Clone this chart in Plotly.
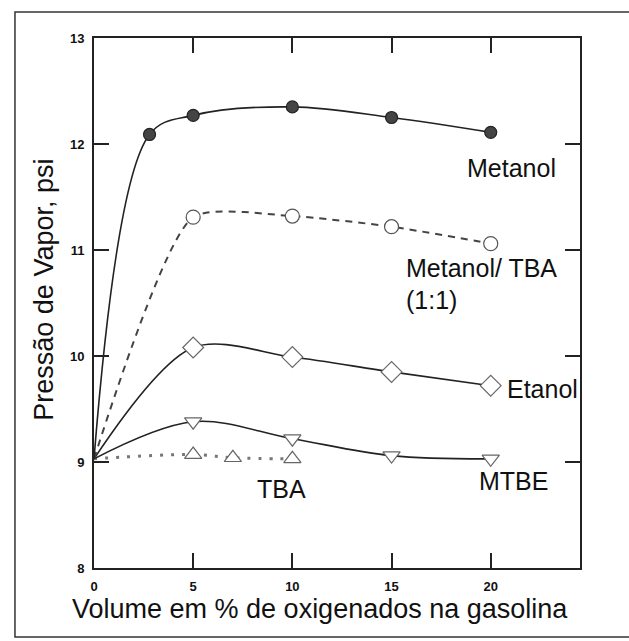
import plotly.graph_objects as go

# ---- data ----
base_x = 0
base_y = 9.03

metanol_x = [2.8, 5, 10, 15, 20]
metanol_y = [12.09, 12.27, 12.35, 12.25, 12.11]

mtba_x = [5, 10, 15, 20]
mtba_y = [11.31, 11.32, 11.22, 11.06]

etanol_x = [5, 10, 15, 20]
etanol_y = [10.08, 9.99, 9.85, 9.72]

mtbe_x = [5, 10, 15, 20]
mtbe_y = [9.38, 9.22, 9.06, 9.03]

tba_x = [5, 7, 10]
tba_y = [9.07, 9.04, 9.03]

x_ticks = [0, 5, 10, 15, 20]
y_ticks = [8, 9, 10, 11, 12, 13]

fig = go.Figure()

def add_series(xs, ys, line, marker, smoothing=1.0):
    fig.add_trace(go.Scatter(x=[base_x] + xs, y=[base_y] + ys, mode="lines",
                             line=dict(shape="spline", smoothing=smoothing, **line),
                             hoverinfo="skip", showlegend=False))
    fig.add_trace(go.Scatter(x=xs, y=ys, mode="markers", marker=marker,
                             showlegend=False))

add_series(tba_x, tba_y, dict(color="#777", width=3, dash="3px,8px"),
           dict(symbol="triangle-up", size=15, color="white", line=dict(color="#666", width=1.2)))
add_series(mtbe_x, mtbe_y, dict(color="#222", width=1.6),
           dict(symbol="triangle-down", size=15, color="white", line=dict(color="#666", width=1.2)))
add_series(etanol_x, etanol_y, dict(color="#222", width=1.6),
           dict(symbol="diamond", size=16, color="white", line=dict(color="#666", width=1.2)),
           smoothing=0.9)
add_series(mtba_x, mtba_y, dict(color="#444", width=2, dash="7px,6px"),
           dict(symbol="circle", size=14, color="white", line=dict(color="#555", width=1.2)),
           smoothing=0.6)
add_series(metanol_x, metanol_y, dict(color="#222", width=1.6),
           dict(symbol="circle", size=12, color="#444", line=dict(color="#222", width=1.2)))

lab_font = dict(family="Liberation Sans, Arial", size=25, color="#111")
labels = [
    (21.06, 11.77, "Metanol", "center"),
    (15.62, 10.83, "Metanol/ TBA", "left"),
    (15.62, 10.53, "(1:1)", "left"),
    (20.7, 9.69, "Etanol", "left"),
    (9.47, 8.75, "TBA", "center"),
    (21.16, 8.82, "MTBE", "center"),
]
for x, y, t, anc in labels:
    fig.add_annotation(x=x, y=y, text=t, showarrow=False, xanchor=anc,
                       yanchor="middle", font=lab_font)

title_font = dict(family="Liberation Sans, Arial", size=27, color="#111")
fig.add_annotation(xref="paper", yref="paper", x=0.465, y=-0.077,
                   text="Volume em % de oxigenados na gasolina", showarrow=False,
                   xanchor="center", yanchor="middle", font=title_font)
fig.add_annotation(xref="paper", yref="paper", x=-0.103, y=0.525,
                   text="Pressão de Vapor, psi", showarrow=False, textangle=-90,
                   xanchor="center", yanchor="middle", font=title_font)

# outer frame
fig.add_shape(type="rect", xref="paper", yref="paper", x0=-0.1626, x1=1.2,
              y0=-0.130, y1=1.049, line=dict(color="#333", width=1.5))

tick_font = dict(family="Liberation Sans, Arial", size=13, color="#111", weight="bold")
fig.update_xaxes(range=[0, 24.5], tickvals=x_ticks, ticks="inside", ticklen=15,
                 tickwidth=1.5, tickcolor="#222", showline=True, linecolor="#222",
                 linewidth=1.8, mirror="ticks", showgrid=False, zeroline=False,
                 tickfont=tick_font, ticklabelstandoff=5)
fig.update_yaxes(range=[8, 13], tickvals=y_ticks, ticks="inside", ticklen=15,
                 tickwidth=1.5, tickcolor="#222", showline=True, linecolor="#222",
                 linewidth=1.8, mirror="ticks", showgrid=False, zeroline=False,
                 tickfont=tick_font, ticklabelstandoff=5)

fig.update_layout(width=629, height=641, plot_bgcolor="white", paper_bgcolor="white",
                  margin=dict(l=94, r=49, t=38, b=73))

fig.write_html("out.html")
